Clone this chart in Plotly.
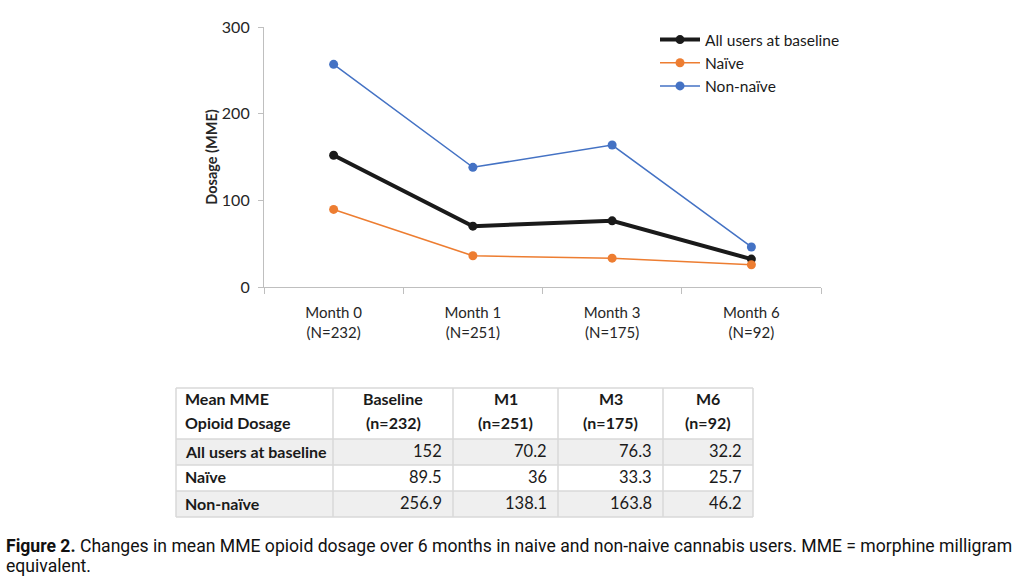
import plotly.graph_objects as go

# ---- data ----
months = ["Month 0<br>(N=232)", "Month 1<br>(N=251)", "Month 3<br>(N=175)", "Month 6<br>(N=92)"]
all_users = [152, 70.2, 76.3, 32.2]
naive = [89.5, 36, 33.3, 25.7]
non_naive = [256.9, 138.1, 163.8, 46.2]
series_names = ["All users at baseline", "Naïve", "Non-naïve"]
table_header = [["Mean MME", "Opioid Dosage"], ["Baseline", "(n=232)"], ["M1", "(n=251)"],
                ["M3", "(n=175)"], ["M6", "(n=92)"]]
y_ticks = [0, 100, 200, 300]
caption_lines = [
    "<b>Figure 2.</b> Changes in mean MME opioid dosage over 6 months in naive and non-naive cannabis users. MME = morphine milligram",
    "equivalent.",
]

W, H = 1024, 581
AX = "#bfbfbf"
TXT = "#262626"
FONT = "Lato, 'Open Sans', sans-serif"
series_colors = ["#1a1a1a", "#ED7D31", "#4472C4"]
series_widths = [4, 1.5, 1.5]

fig = go.Figure()
for name, vals, col, lw in zip(series_names, [all_users, naive, non_naive], series_colors, series_widths):
    fig.add_trace(go.Scatter(x=months, y=vals, name=name, mode="lines+markers",
                             line=dict(color=col, width=lw), marker=dict(size=9, color=col)))

# ---- table drawn with shapes + annotations (layout, in pixels -> paper) ----
col_w = [157, 120, 105, 105, 90]
tbl_left, tbl_top = 176, 388
head_h, row_h = 51, 26
gray, border = "#efefef", "#d9d9d9"


def px(x):
    return x / W


def py(y):
    return 1 - y / H


def fmt(v):
    return f"{v:g}"


rows = [[series_names[0]] + [fmt(v) for v in all_users],
        [series_names[1]] + [fmt(v) for v in naive],
        [series_names[2]] + [fmt(v) for v in non_naive]]

xs = [tbl_left]
for w in col_w:
    xs.append(xs[-1] + w)
ys = [tbl_top, tbl_top + head_h] + [tbl_top + head_h + row_h * (i + 1) for i in range(len(rows))]

shapes = []
annotations = []
for i in range(len(rows)):
    if i % 2 == 0:
        shapes.append(dict(type="rect", xref="paper", yref="paper", layer="below",
                           x0=px(xs[0]), x1=px(xs[-1]), y0=py(ys[i + 1]), y1=py(ys[i + 2]),
                           fillcolor=gray, line=dict(width=0)))
for x in xs:
    shapes.append(dict(type="line", xref="paper", yref="paper", x0=px(x), x1=px(x),
                       y0=py(ys[0]), y1=py(ys[-1]), line=dict(color=border, width=1.5)))
for y in ys:
    shapes.append(dict(type="line", xref="paper", yref="paper", x0=px(xs[0]), x1=px(xs[-1]),
                       y0=py(y), y1=py(y), line=dict(color=border, width=1.5)))

TFONT = dict(family=FONT, size=16, color="#1a1a1a")
for j, lines in enumerate(table_header):
    if j == 0:
        ax, xa = xs[0] + 7, "left"
    else:
        ax, xa = (xs[j] + xs[j + 1]) / 2, "center"
    for k, t in enumerate(lines):
        annotations.append(dict(text="<b>%s</b>" % t, x=px(ax), y=py(ys[0] + 10 + 24 * k),
                                xref="paper", yref="paper", xanchor=xa, yanchor="middle",
                                showarrow=False, font=TFONT))
for i, r in enumerate(rows):
    yc = (ys[i + 1] + ys[i + 2]) / 2 - 1
    for j, t in enumerate(r):
        if j == 0:
            annotations.append(dict(text="<b>%s</b>" % t, x=px(xs[0] + 7), y=py(yc), xref="paper", yref="paper",
                                    xanchor="left", yanchor="middle", showarrow=False, font=TFONT))
        else:
            annotations.append(dict(text=t, x=px(xs[j + 1] - 9), y=py(yc), xref="paper", yref="paper",
                                    xanchor="right", yanchor="middle", showarrow=False,
                                    font=dict(family=FONT, size=16.5, color="#1a1a1a")))

for k, line in enumerate(caption_lines):
    annotations.append(dict(text=line, xref="paper", yref="paper", x=px(4), y=py(546 + 20 * k),
                            xanchor="left", yanchor="middle", showarrow=False,
                            font=dict(family="Roboto, sans-serif", size=17.6, color="#111111")))

fig.update_layout(
    width=W, height=H,
    margin=dict(l=0, r=0, t=0, b=0, autoexpand=False),
    paper_bgcolor="white", plot_bgcolor="white",
    font=dict(family=FONT, size=15, color=TXT),
    showlegend=True,
    legend=dict(x=px(655), y=py(23), xanchor="left", yanchor="top",
                font=dict(size=15.5, color="#1a1a1a"), bgcolor="rgba(0,0,0,0)",
                tracegroupgap=0, itemwidth=40),
    xaxis=dict(domain=[px(264), px(821)], range=[-0.5, 3.5], showline=True, linecolor=AX, linewidth=1.2,
               ticks="outside", tickson="boundaries", ticklen=6, tickcolor=AX, automargin=False,
               ticklabelstandoff=12,
               showgrid=False, zeroline=False, tickfont=dict(size=15, color=TXT)),
    yaxis=dict(domain=[py(287), py(27)], range=[0, 300], tickvals=y_ticks, automargin=False,
               showline=True, linecolor=AX, linewidth=1.2, ticklabelstandoff=5,
               ticks="outside", ticklen=5, tickcolor=AX, showgrid=False, zeroline=False,
               tickfont=dict(size=16, color=TXT),
               title=dict(text="<b>Dosage (MME)</b>", font=dict(size=14.5, color=TXT), standoff=0)),
    shapes=shapes,
    annotations=annotations,
)

fig.write_html("out.html", config={"displayModeBar": False},
               post_script="document.body.style.margin='0';")
